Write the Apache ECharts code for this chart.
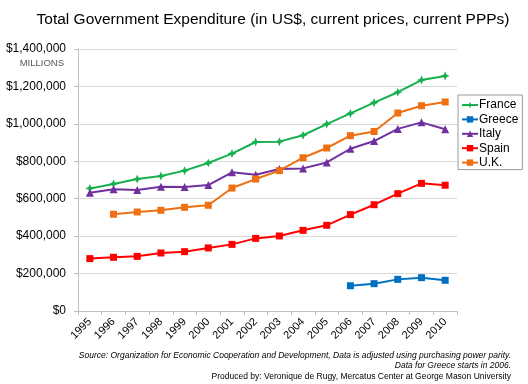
<!DOCTYPE html>
<html><head><meta charset="utf-8">
<script src="https://cdn.jsdelivr.net/npm/echarts@6/dist/echarts.min.js"></script>
<style>html,body{margin:0;padding:0;background:#fff}#c{width:528px;height:384px}</style>
</head><body><div id="c"></div>
<script>
const years = ['1995','1996','1997','1998','1999','2000','2001','2002','2003','2004','2005','2006','2007','2008','2009','2010'];
const france = [655000,679000,705000,721000,750000,791000,841000,903000,905000,939000,999000,1056000,1113000,1169000,1234000,1256000];
const greece = [null,null,null,null,null,null,null,null,null,null,null,135000,146000,169000,178000,164000];
const italy = [632000,650000,647000,664000,663000,673000,741000,728000,759000,762000,794000,867000,908000,973000,1008000,971000];
const spain = [280000,287000,292000,310000,317000,337000,356000,388000,401000,431000,458000,515000,568000,627000,682000,672000];
const uk = [null,517000,529000,538000,554000,565000,657000,705000,750000,819000,871000,937000,959000,1058000,1097000,1117000];
const yTicks = [0,200000,400000,600000,800000,1000000,1200000,1400000];

const FONT = 'Liberation Sans, Arial, sans-serif';
const star = 'path://M0,-4L1.2,-1.2L4,0L1.2,1.2L0,4L-1.2,1.2L-4,0L-1.2,-1.2Z';
function s(name, data, color, symbol, size){
  return {name, type:'line', data, connectNulls:false, symbol, symbolSize:size,
    itemStyle:{color}, lineStyle:{color, width:2}, showAllSymbol:true};
}
function txt(text, x, y, size, opts){
  return {type:'text', x, y, style:Object.assign({text, fontSize:size, fill:'#000', fontFamily:FONT,
    textAlign:'right', textVerticalAlign:'middle'}, opts||{})};
}
const chart = echarts.init(document.getElementById('c'));
chart.setOption({
  animation:false,
  textStyle:{fontFamily:FONT},
  grid:{left:78, right:71, top:49, bottom:73},
  legend:{orient:'vertical', left:458, top:95, padding:[4,4,1,3], itemGap:2.4, itemWidth:16, itemHeight:8,
    borderColor:'#9a9a9a', borderWidth:1, borderRadius:0,
    textStyle:{fontSize:12, color:'#000', padding:[0,0,0,-4]},
    data:['France','Greece','Italy','Spain','U.K.']},
  xAxis:{type:'category', data:years, boundaryGap:true,
    axisLine:{lineStyle:{color:'#bfbfbf'}}, axisTick:{show:true, length:4, lineStyle:{color:'#bfbfbf'}},
    axisLabel:{rotate:45, fontSize:11, color:'#000', margin:9, interval:0}},
  yAxis:{type:'value', min:yTicks[0], max:yTicks[yTicks.length-1], interval:yTicks[1]-yTicks[0],
    axisLine:{show:true, lineStyle:{color:'#bfbfbf'}}, axisTick:{show:true, length:4, lineStyle:{color:'#bfbfbf'}},
    splitLine:{lineStyle:{color:'#d9d9d9'}},
    axisLabel:{fontSize:12, color:'#000', margin:12, formatter:v=>'$'+v.toLocaleString('en-US')}},
  graphic:[
    txt('Total Government Expenditure (in US$, current prices, current PPPs)', 273, 20, 15.5, {textAlign:'center'}),
    txt('MILLIONS', 64, 63, 9.5, {fill:'#595959'}),
    txt('Source: Organization for Economic Cooperation and Development, Data is adjusted using purchasing power parity.', 511, 356, 8.5, {fontStyle:'italic'}),
    txt('Data for Greece starts in 2006.', 511, 366, 8.5, {fontStyle:'italic'}),
    txt('Produced by: Veronique de Rugy, Mercatus Center at George Mason University', 511, 376.5, 8.5)
  ],
  series:[
    s('France', france, '#17b04f', star, 9),
    s('Greece', greece, '#0070c0', 'rect', 7),
    s('Italy', italy, '#7030a0', 'triangle', 8),
    s('Spain', spain, '#ff0000', 'rect', 7),
    s('U.K.', uk, '#ee7012', 'rect', 7)
  ]
});
</script></body></html>
